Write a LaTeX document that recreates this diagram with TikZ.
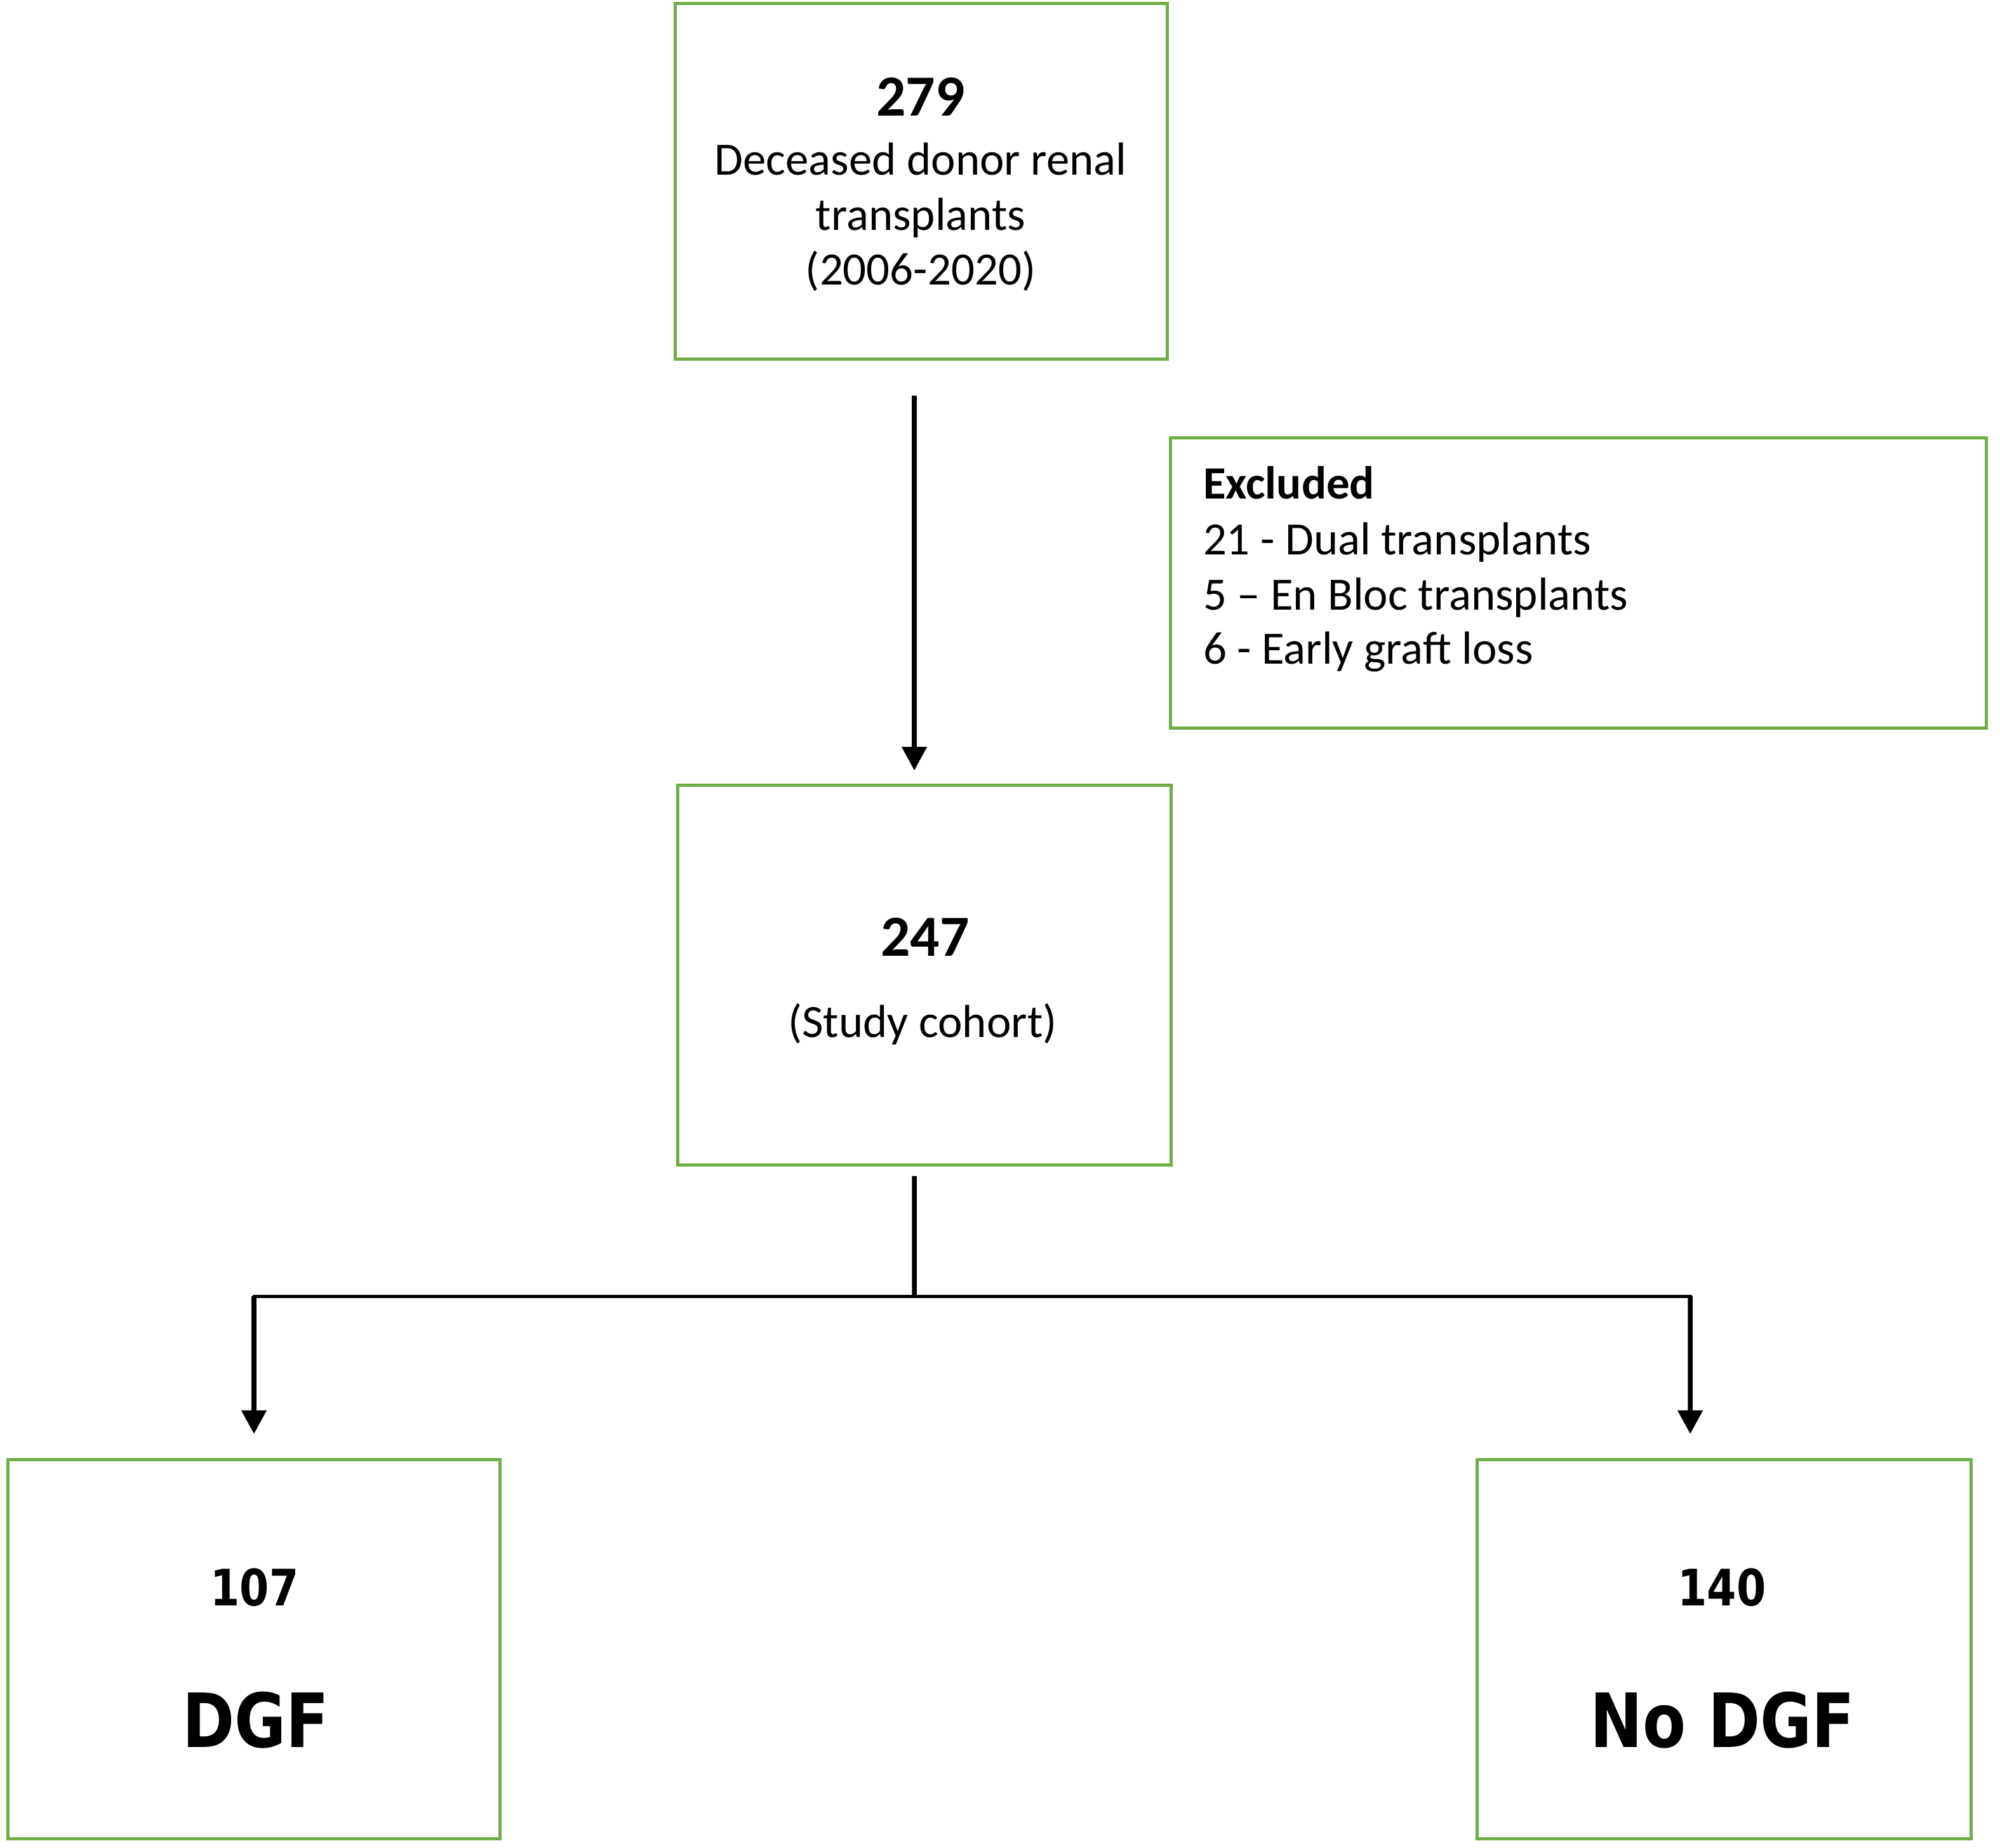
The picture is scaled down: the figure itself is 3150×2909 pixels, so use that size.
\documentclass[tikz,border=0pt]{standalone}
\usepackage{fontspec}
\setmainfont{Carlito}
\newfontfamily\dgffont[FakeStretch=0.84]{DejaVu Sans}
\usetikzlibrary{arrows.meta}
\definecolor{boxgreen}{HTML}{70AD47}
\tikzset{
  box/.style={draw=boxgreen, line width=1.2pt, inner sep=0pt, outer sep=0pt, fill=white},
  txt/.style={inner sep=0pt, outer sep=0pt, anchor=base, font=\fontsize{17.5}{21}\selectfont},
  txtl/.style={txt, anchor=base west},
  boldtxt/.style={txtl, font=\fontsize{17.5}{21}\selectfont\bfseries},
  num/.style={txt, font=\fontsize{22}{26}\selectfont\bfseries},
  bignum/.style={txt, font=\dgffont\bfseries\fontsize{19}{23}\selectfont},
  biglab/.style={txt, font=\dgffont\bfseries\fontsize{28.3}{33}\selectfont},
  conn/.style={line width=1.8pt, black},
  arr/.style={conn, -{Triangle[length=8.9pt,width=9.1pt]}},
  hline/.style={line width=1.2pt, black, line cap=rect}
}
\begin{document}
\begin{tikzpicture}[x=0.24pt, y=-0.24pt]
\useasboundingbox[fill=white] (0,0) rectangle (3150,2909);

% boxes
\node[box, minimum width=186pt, minimum height=134.2pt] (top) at (1450.5,285.5) {};
\node[box, minimum width=308.2pt, minimum height=109.9pt] (excl) at (2486,918) {};
\node[box, minimum width=186.5pt, minimum height=143.7pt] (mid) at (1456,1535.5) {};
\node[box, minimum width=186.2pt, minimum height=143.3pt] (dgf) at (400,2596.5) {};
\node[box, minimum width=186.7pt, minimum height=143.3pt] (nodgf) at (2715,2596.5) {};

% texts
\node[num] (t279) at (1450,182) {279};
\node[txt] (t1) at (1450,275) {Deceased donor renal};
\node[txt] (t2) at (1450,362) {transplants};
\node[txt] (t3) at (1450,448) {(2006-2020)};

\node[boldtxt] (ex0) at (1895,785) {Excluded};
\node[txtl] (ex1) at (1895,873) {21 - Dual transplants};
\node[txtl] (ex2) at (1895,960) {5 – En Bloc transplants};
\node[txtl] (ex3) at (1895,1045) {6 - Early graft loss};

\node[num] (t247) at (1457,1505) {247};
\node[txt] (tsc) at (1453,1633) {(Study cohort)};

\node[bignum] (n107) at (401,2528) {107};
\node[biglab] (ldgf) at (403,2751) {DGF};
\node[bignum] (n140) at (2712,2528) {140};
\node[biglab] (lnodgf) at (2713,2751) {No DGF};

% connectors
\coordinate (j) at (1440,2041);
\coordinate (jl) at (400,2041);
\coordinate (jr) at (2662,2041);

\draw[arr, shorten <=13.9pt, shorten >=5.5pt] ([xshift=-2.5pt]top.south) -- ([xshift=-2.5pt]top.south |- mid.north);
\draw[conn, shorten <=4.1pt] ([xshift=-3.8pt]mid.south) -- (j);
\draw[hline] (jl) -- (jr);
\draw[arr, shorten >=9.6pt] (jl) -- (dgf.north);
\draw[arr, shorten >=9.6pt] (jr) -- ([xshift=-12.7pt]nodgf.north);
\end{tikzpicture}
\end{document}
